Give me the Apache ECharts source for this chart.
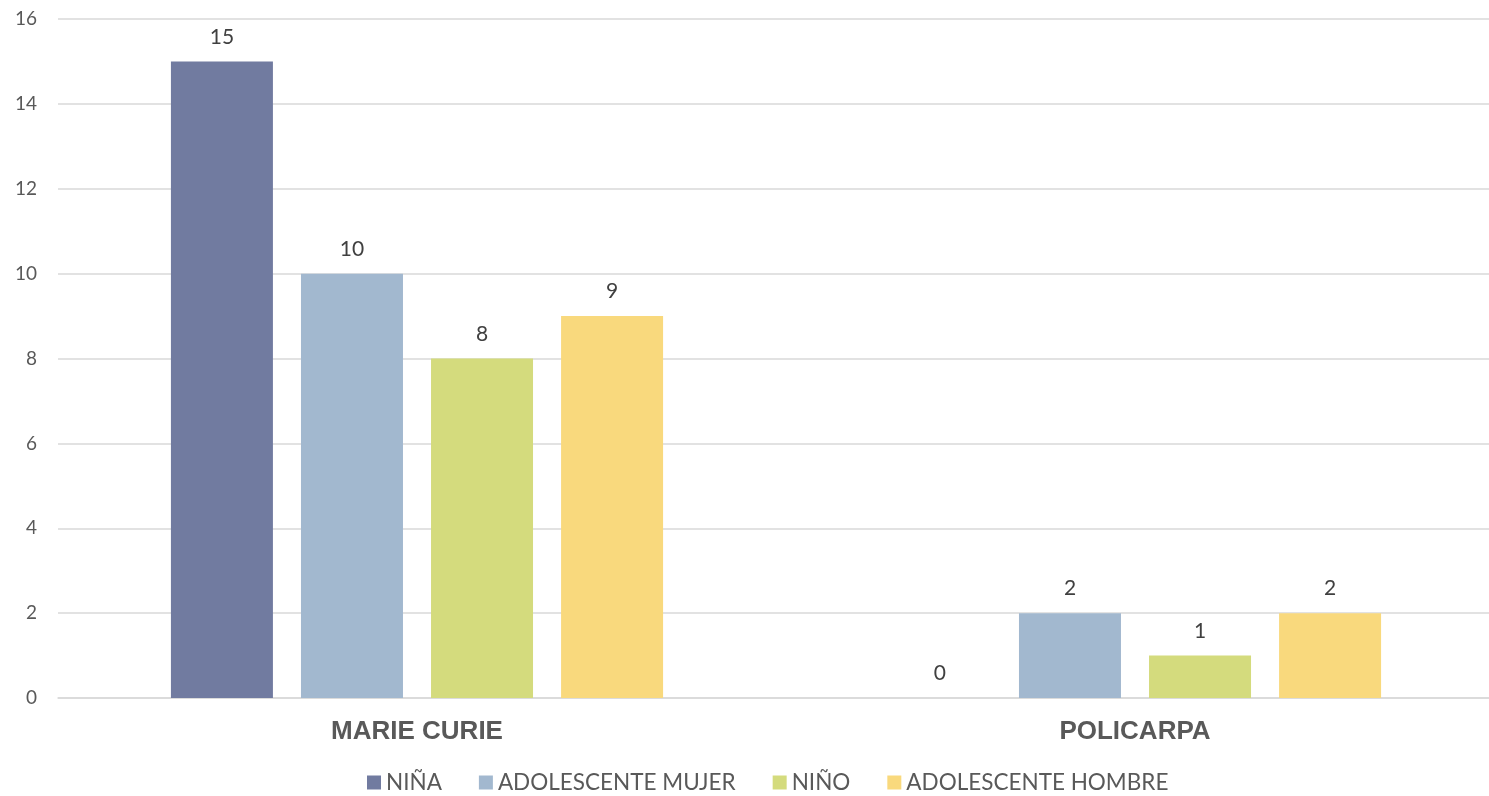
<!DOCTYPE html>
<html><head><meta charset="utf-8">
<script src="https://cdn.jsdelivr.net/npm/echarts@6/dist/echarts.min.js"></script>
<style>html,body{margin:0;padding:0;background:#fff;overflow:hidden}#c{width:1500px;height:796px}</style>
</head><body><div id="c"></div>
<script>
var categories = ['MARIE CURIE', 'POLICARPA'];
var seriesNames = ['NIÑA', 'ADOLESCENTE MUJER', 'NIÑO', 'ADOLESCENTE HOMBRE'];
var nina = [15, 0];
var adolescenteMujer = [10, 2];
var nino = [8, 1];
var adolescenteHombre = [9, 2];
var colors = ['#717BA0', '#A2B8CF', '#D4DB7D', '#F9D97D'];
var values = [nina, adolescenteMujer, nino, adolescenteHombre];
var font = 'Lato';
var chart = echarts.init(document.getElementById('c'));
chart.setOption({
  animation: false,
  grid: {left: 58, width: 1436, top: 19, bottom: 98, containLabel: false},
  legend: {
    top: 766, left: 362, itemWidth: 14, itemHeight: 14, itemGap: 37,
    icon: 'rect',
    textStyle: {fontFamily: font, fontSize: 22.5, color: '#595959'},
    data: seriesNames
  },
  xAxis: {
    type: 'category', data: categories,
    axisLine: {lineStyle: {color: '#D9D9D9', width: 1.5}},
    axisTick: {show: false},
    axisLabel: {fontFamily: 'Liberation Sans', fontWeight: 'bold', fontSize: 26, color: '#595959', margin: 21}
  },
  yAxis: {
    type: 'value', min: 0, max: 16, interval: 2,
    axisLine: {show: false}, axisTick: {show: false},
    splitLine: {lineStyle: {color: '#D9D9D9', width: 1.5}},
    axisLabel: {fontFamily: font, fontSize: 19, color: '#595959', margin: 21}
  },
  series: values.map(function(v, i){
    return {
      name: seriesNames[i], type: 'bar', data: v, barWidth: 102, barGap: '27.5%',
      itemStyle: {color: colors[i]},
      label: {show: true, position: 'top', distance: 14, fontFamily: font, fontSize: 21, color: '#404040'}
    };
  })
});
</script></body></html>
